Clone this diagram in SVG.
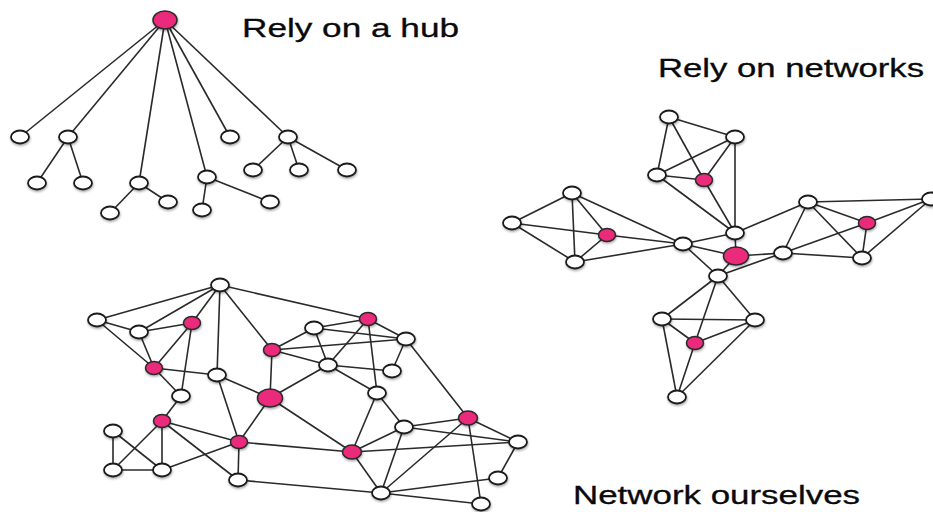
<svg xmlns="http://www.w3.org/2000/svg" width="933" height="512" viewBox="0 0 933 512">
<style>
.e line{stroke:#2a2a2a;stroke-width:1.6;fill:none}
.w{fill:#fff;stroke:#1a1a1a;stroke-width:1.8}
.p{fill:#ec2a7c;stroke:#2a2a2a;stroke-width:1.5}
.t{font-family:"Liberation Sans",Arial,Helvetica,sans-serif;font-size:25px;fill:#0a0a0a;stroke:#0a0a0a;stroke-width:0.3}
</style>
<defs>
<filter id="sh" x="-50%" y="-50%" width="200%" height="200%">
<feDropShadow dx="0.5" dy="1.5" stdDeviation="1" flood-color="#000" flood-opacity="0.35"/>
</filter>
</defs>
<rect width="933" height="512" fill="#fff"/>

<g id="connectors" class="e">
<!-- hub tree -->
<line x1="165" y1="20" x2="20" y2="137"/>
<line x1="165" y1="20" x2="68" y2="137"/>
<line x1="165" y1="20" x2="139" y2="183"/>
<line x1="165" y1="20" x2="207" y2="177"/>
<line x1="165" y1="20" x2="230" y2="137"/>
<line x1="165" y1="20" x2="288" y2="137"/>
<line x1="68" y1="137" x2="37" y2="183"/>
<line x1="68" y1="137" x2="83" y2="183"/>
<line x1="139" y1="183" x2="110" y2="213"/>
<line x1="139" y1="183" x2="168" y2="202"/>
<line x1="207" y1="177" x2="202" y2="210"/>
<line x1="207" y1="177" x2="270" y2="202"/>
<line x1="288" y1="137" x2="253" y2="170"/>
<line x1="288" y1="137" x2="299" y2="170"/>
<line x1="288" y1="137" x2="347" y2="170"/>
<!-- right network -->
<line x1="669" y1="117" x2="735" y2="137"/>
<line x1="669" y1="117" x2="657" y2="175"/>
<line x1="669" y1="117" x2="704" y2="180"/>
<line x1="657" y1="175" x2="735" y2="137"/>
<line x1="657" y1="175" x2="704" y2="180"/>
<line x1="735" y1="137" x2="704" y2="180"/>
<line x1="735" y1="137" x2="735" y2="233"/>
<line x1="657" y1="175" x2="735" y2="233"/>
<line x1="704" y1="180" x2="735" y2="233"/>
<line x1="572" y1="193" x2="512" y2="223"/>
<line x1="572" y1="193" x2="575" y2="262"/>
<line x1="572" y1="193" x2="607" y2="235"/>
<line x1="512" y1="223" x2="607" y2="235"/>
<line x1="512" y1="223" x2="575" y2="262"/>
<line x1="575" y1="262" x2="607" y2="235"/>
<line x1="572" y1="193" x2="683" y2="244"/>
<line x1="607" y1="235" x2="683" y2="244"/>
<line x1="575" y1="262" x2="683" y2="244"/>
<line x1="683" y1="244" x2="735" y2="233"/>
<line x1="683" y1="244" x2="736" y2="256"/>
<line x1="735" y1="233" x2="736" y2="256"/>
<line x1="735" y1="233" x2="808" y2="202"/>
<line x1="736" y1="256" x2="783" y2="253"/>
<line x1="683" y1="244" x2="718" y2="276"/>
<line x1="736" y1="256" x2="718" y2="276"/>
<line x1="718" y1="276" x2="783" y2="253"/>
<line x1="808" y1="202" x2="931" y2="199"/>
<line x1="808" y1="202" x2="867" y2="223"/>
<line x1="808" y1="202" x2="783" y2="253"/>
<line x1="808" y1="202" x2="862" y2="258"/>
<line x1="783" y1="253" x2="867" y2="223"/>
<line x1="783" y1="253" x2="862" y2="258"/>
<line x1="867" y1="223" x2="862" y2="258"/>
<line x1="867" y1="223" x2="931" y2="199"/>
<line x1="931" y1="199" x2="862" y2="258"/>
<line x1="718" y1="276" x2="662" y2="319"/>
<line x1="718" y1="276" x2="755" y2="320"/>
<line x1="718" y1="276" x2="695" y2="343"/>
<line x1="662" y1="319" x2="755" y2="320"/>
<line x1="662" y1="319" x2="695" y2="343"/>
<line x1="755" y1="320" x2="695" y2="343"/>
<line x1="662" y1="319" x2="677" y2="397"/>
<line x1="695" y1="343" x2="677" y2="397"/>
<line x1="755" y1="320" x2="677" y2="397"/>
<!-- bottom network -->
<line x1="220" y1="285" x2="97" y2="320"/>
<line x1="220" y1="285" x2="139" y2="332"/>
<line x1="220" y1="285" x2="192" y2="323"/>
<line x1="220" y1="285" x2="217" y2="375"/>
<line x1="220" y1="285" x2="272" y2="350"/>
<line x1="220" y1="285" x2="368" y2="319"/>
<line x1="97" y1="320" x2="139" y2="332"/>
<line x1="97" y1="320" x2="154" y2="368"/>
<line x1="139" y1="332" x2="192" y2="323"/>
<line x1="139" y1="332" x2="154" y2="368"/>
<line x1="192" y1="323" x2="154" y2="368"/>
<line x1="192" y1="323" x2="181" y2="396"/>
<line x1="154" y1="368" x2="217" y2="375"/>
<line x1="154" y1="368" x2="181" y2="396"/>
<line x1="217" y1="375" x2="270" y2="398"/>
<line x1="217" y1="375" x2="239" y2="442"/>
<line x1="272" y1="350" x2="314" y2="328"/>
<line x1="272" y1="350" x2="270" y2="398"/>
<line x1="272" y1="350" x2="328" y2="365"/>
<line x1="272" y1="350" x2="406" y2="339"/>
<line x1="314" y1="328" x2="368" y2="319"/>
<line x1="314" y1="328" x2="406" y2="339"/>
<line x1="314" y1="328" x2="328" y2="365"/>
<line x1="368" y1="319" x2="328" y2="365"/>
<line x1="368" y1="319" x2="406" y2="339"/>
<line x1="368" y1="319" x2="377" y2="393"/>
<line x1="406" y1="339" x2="392" y2="371"/>
<line x1="406" y1="339" x2="468" y2="418"/>
<line x1="328" y1="365" x2="392" y2="371"/>
<line x1="328" y1="365" x2="377" y2="393"/>
<line x1="328" y1="365" x2="270" y2="398"/>
<line x1="270" y1="398" x2="352" y2="452"/>
<line x1="270" y1="398" x2="239" y2="442"/>
<line x1="377" y1="393" x2="404" y2="427"/>
<line x1="377" y1="393" x2="352" y2="452"/>
<line x1="181" y1="396" x2="162" y2="421"/>
<line x1="162" y1="421" x2="113" y2="470"/>
<line x1="113" y1="431" x2="162" y2="470"/>
<line x1="113" y1="431" x2="113" y2="470"/>
<line x1="113" y1="470" x2="162" y2="470"/>
<line x1="162" y1="421" x2="162" y2="470"/>
<line x1="162" y1="421" x2="239" y2="442"/>
<line x1="162" y1="421" x2="238" y2="480"/>
<line x1="162" y1="470" x2="239" y2="442"/>
<line x1="239" y1="442" x2="238" y2="480"/>
<line x1="239" y1="442" x2="352" y2="452"/>
<line x1="238" y1="480" x2="381" y2="493"/>
<line x1="352" y1="452" x2="404" y2="427"/>
<line x1="352" y1="452" x2="518" y2="442"/>
<line x1="352" y1="452" x2="381" y2="493"/>
<line x1="404" y1="427" x2="468" y2="418"/>
<line x1="404" y1="427" x2="518" y2="442"/>
<line x1="404" y1="427" x2="381" y2="493"/>
<line x1="468" y1="418" x2="518" y2="442"/>
<line x1="468" y1="418" x2="381" y2="493"/>
<line x1="468" y1="418" x2="481" y2="504"/>
<line x1="518" y1="442" x2="498" y2="478"/>
<line x1="381" y1="493" x2="498" y2="478"/>
<line x1="381" y1="493" x2="481" y2="504"/>
</g>

<g filter="url(#sh)">
<!-- hub tree nodes -->
<g id="hub"><ellipse class="p" cx="165" cy="20" rx="12" ry="9"/></g>
<g id="t1"><ellipse class="w" cx="20" cy="137" rx="9" ry="6.5"/></g>
<g id="t2"><ellipse class="w" cx="68" cy="137" rx="9" ry="6.5"/></g>
<g id="t2a"><ellipse class="w" cx="37" cy="183" rx="9" ry="6.5"/></g>
<g id="t2b"><ellipse class="w" cx="83" cy="183" rx="9" ry="6.5"/></g>
<g id="t3"><ellipse class="w" cx="139" cy="183" rx="9" ry="6.5"/></g>
<g id="t3a"><ellipse class="w" cx="110" cy="213" rx="9" ry="6.5"/></g>
<g id="t3b"><ellipse class="w" cx="168" cy="202" rx="9" ry="6.5"/></g>
<g id="t4"><ellipse class="w" cx="207" cy="177" rx="9" ry="6.5"/></g>
<g id="t4a"><ellipse class="w" cx="202" cy="210" rx="9" ry="6.5"/></g>
<g id="t4b"><ellipse class="w" cx="270" cy="202" rx="9" ry="6.5"/></g>
<g id="t5"><ellipse class="w" cx="230" cy="137" rx="9" ry="6.5"/></g>
<g id="t6"><ellipse class="w" cx="288" cy="137" rx="9" ry="6.5"/></g>
<g id="t6a"><ellipse class="w" cx="253" cy="170" rx="9" ry="6.5"/></g>
<g id="t6b"><ellipse class="w" cx="299" cy="170" rx="9" ry="6.5"/></g>
<g id="t6c"><ellipse class="w" cx="347" cy="170" rx="9" ry="6.5"/></g>
<!-- right network nodes -->
<g id="a1"><ellipse class="w" cx="669" cy="117" rx="9" ry="6.5"/></g>
<g id="a2"><ellipse class="w" cx="735" cy="137" rx="9" ry="6.5"/></g>
<g id="a3"><ellipse class="w" cx="657" cy="175" rx="9" ry="6.5"/></g>
<g id="ap"><ellipse class="p" cx="704" cy="180" rx="8.5" ry="6.5"/></g>
<g id="b1"><ellipse class="w" cx="572" cy="193" rx="9" ry="6.5"/></g>
<g id="b2"><ellipse class="w" cx="512" cy="223" rx="9" ry="6.5"/></g>
<g id="bp"><ellipse class="p" cx="607" cy="235" rx="8.5" ry="6.5"/></g>
<g id="b3"><ellipse class="w" cx="575" cy="262" rx="9" ry="6.5"/></g>
<g id="c"><ellipse class="w" cx="683" cy="244" rx="9" ry="6.5"/></g>
<g id="d"><ellipse class="w" cx="735" cy="233" rx="9" ry="6.5"/></g>
<g id="e"><ellipse class="p" cx="736" cy="256" rx="12.5" ry="9"/></g>
<g id="f1"><ellipse class="w" cx="808" cy="202" rx="9" ry="6.5"/></g>
<g id="f2"><ellipse class="w" cx="931" cy="199" rx="9" ry="6.5"/></g>
<g id="fp"><ellipse class="p" cx="867" cy="223" rx="8.5" ry="6.5"/></g>
<g id="f3"><ellipse class="w" cx="783" cy="253" rx="9" ry="6.5"/></g>
<g id="f4"><ellipse class="w" cx="862" cy="258" rx="9" ry="6.5"/></g>
<g id="g1"><ellipse class="w" cx="718" cy="276" rx="9" ry="6.5"/></g>
<g id="g2"><ellipse class="w" cx="662" cy="319" rx="9" ry="6.5"/></g>
<g id="g3"><ellipse class="w" cx="755" cy="320" rx="9" ry="6.5"/></g>
<g id="gp"><ellipse class="p" cx="695" cy="343" rx="8.5" ry="6.5"/></g>
<g id="g4"><ellipse class="w" cx="677" cy="397" rx="9" ry="6.5"/></g>
<!-- bottom network nodes -->
<g id="n1"><ellipse class="w" cx="220" cy="285" rx="9" ry="6.5"/></g>
<g id="n2"><ellipse class="w" cx="97" cy="320" rx="9" ry="6.5"/></g>
<g id="n3"><ellipse class="w" cx="139" cy="332" rx="9" ry="6.5"/></g>
<g id="n4"><ellipse class="p" cx="192" cy="323" rx="8.5" ry="6.5"/></g>
<g id="n5"><ellipse class="p" cx="154" cy="368" rx="8.5" ry="6.5"/></g>
<g id="n6"><ellipse class="w" cx="217" cy="375" rx="9" ry="6.5"/></g>
<g id="n7"><ellipse class="p" cx="272" cy="350" rx="8.5" ry="6.5"/></g>
<g id="n8"><ellipse class="w" cx="314" cy="328" rx="9" ry="6.5"/></g>
<g id="n9"><ellipse class="w" cx="181" cy="396" rx="9" ry="6.5"/></g>
<g id="n10"><ellipse class="p" cx="270" cy="398" rx="12.5" ry="9"/></g>
<g id="n11"><ellipse class="p" cx="368" cy="319" rx="8.5" ry="6.5"/></g>
<g id="n12"><ellipse class="w" cx="406" cy="339" rx="9" ry="6.5"/></g>
<g id="n13"><ellipse class="w" cx="328" cy="365" rx="9" ry="6.5"/></g>
<g id="n14"><ellipse class="w" cx="392" cy="371" rx="9" ry="6.5"/></g>
<g id="n15"><ellipse class="w" cx="377" cy="393" rx="9" ry="6.5"/></g>
<g id="n16"><ellipse class="p" cx="162" cy="421" rx="8.5" ry="6.5"/></g>
<g id="n17"><ellipse class="w" cx="113" cy="431" rx="9" ry="6.5"/></g>
<g id="n18"><ellipse class="w" cx="113" cy="470" rx="9" ry="6.5"/></g>
<g id="n19"><ellipse class="w" cx="162" cy="470" rx="9" ry="6.5"/></g>
<g id="n20"><ellipse class="p" cx="239" cy="442" rx="8.5" ry="6.5"/></g>
<g id="n21"><ellipse class="w" cx="238" cy="480" rx="9" ry="6.5"/></g>
<g id="n22"><ellipse class="w" cx="404" cy="427" rx="9" ry="6.5"/></g>
<g id="n23"><ellipse class="p" cx="468" cy="418" rx="9.5" ry="7"/></g>
<g id="n24"><ellipse class="p" cx="352" cy="452" rx="9.5" ry="7"/></g>
<g id="n25"><ellipse class="w" cx="518" cy="442" rx="9" ry="6.5"/></g>
<g id="n26"><ellipse class="w" cx="498" cy="478" rx="9" ry="6.5"/></g>
<g id="n27"><ellipse class="w" cx="381" cy="493" rx="9" ry="6.5"/></g>
<g id="n28"><ellipse class="w" cx="481" cy="504" rx="9" ry="6.5"/></g>
</g>

<text class="t" x="242" y="37" textLength="217" lengthAdjust="spacingAndGlyphs">Rely on a hub</text>
<text class="t" x="658" y="77" textLength="266" lengthAdjust="spacingAndGlyphs">Rely on networks</text>
<text class="t" x="573" y="504" textLength="287" lengthAdjust="spacingAndGlyphs">Network ourselves</text>
</svg>
